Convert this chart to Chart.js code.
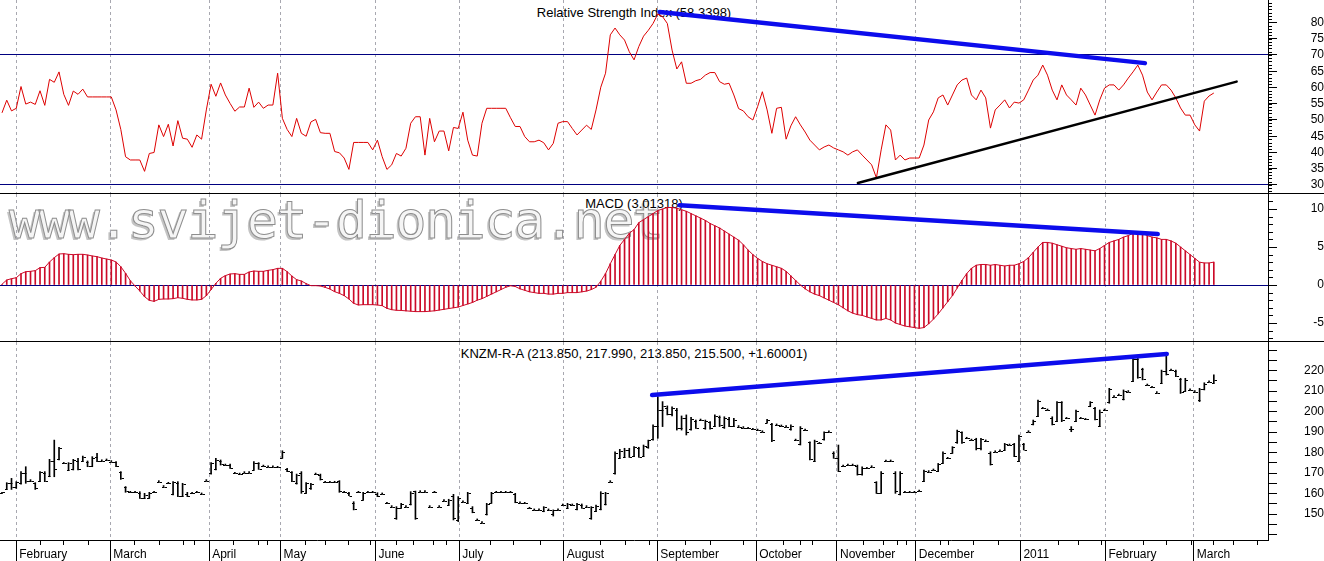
<!DOCTYPE html>
<html>
<head>
<meta charset="utf-8">
<title>KNZM-R-A</title>
<script src="https://cdn.jsdelivr.net/npm/chart.js@4.4.1/dist/chart.umd.min.js"></script>
<style>
  html, body { margin: 0; padding: 0; background: #fff; }
  #wrap { position: relative; width: 1324px; height: 561px; overflow: hidden; font-family: "Liberation Sans", Arial, sans-serif; }
  canvas { position: absolute; left: 0; z-index: 2; }
  .sep { position: absolute; left: 0; width: 1324px; height: 1px; background: #000; z-index: 3; }
  .ttl { position: absolute; left: 0; width: 1268px; text-align: center; font-size: 13px; line-height: 15px; color: #000; z-index: 1; white-space: nowrap; }
  #wm { position: absolute; left: 9px; top: 190px; line-height: 60px; font-family: "DejaVu Sans Mono", monospace; font-size: 52px; letter-spacing: -1.6px;
        color: #f5f5f5; -webkit-text-stroke: 1px #8e8e8e; text-shadow: -2px 2px 0 #c4c4c4; z-index: 1; white-space: nowrap; }
</style>
</head>
<body>
<div id="wrap">
  <div id="wm">www.svijet-dionica.net</div>
  <div class="ttl" style="top:5px">Relative Strength Index (58.3398)</div>
  <div class="ttl" style="top:196px">MACD (3.01318)</div>
  <div class="ttl" style="top:346px">KNZM-R-A (213.850, 217.990, 213.850, 215.500, +1.60001)</div>
  <canvas id="rsiChart" width="1324" height="193" style="top:0"></canvas>
  <div class="sep" style="top:193px"></div>
  <canvas id="macdChart" width="1324" height="147" style="top:194px"></canvas>
  <div class="sep" style="top:341px"></div>
  <canvas id="priceChart" width="1324" height="219" style="top:342px"></canvas>
</div>
<script>
// ---- data (one entry per trading session) ----
var rsi = [
  52.2,56.1,52.8,53.6,60.3,54.9,55.5,54.8,59.0,54.5, 62.5,61.6,64.8,57.9,54.5,58.9,57.9,59.5,57.1,57.1,
  57.1,57.1,57.1,57.1,53.1,47.1,38.7,37.7,37.7,37.7, 34.2,39.7,40.0,48.5,44.9,48.7,42.0,49.8,44.4,44.1,
  41.6,45.4,44.1,53.1,61.0,57.3,61.4,57.7,55.1,52.7, 54.0,54.0,59.8,53.9,55.5,53.6,54.6,54.6,64.4,50.5,
  47.1,44.9,50.5,45.9,45.0,49.4,50.2,46.1,45.9,45.9, 40.3,39.9,38.3,34.8,43.1,43.1,43.1,43.1,40.8,43.8,
  38.7,34.8,36.2,39.7,38.9,41.3,49.0,51.0,51.0,39.2, 50.5,43.3,46.6,46.6,40.5,47.7,47.4,52.4,43.8,39.2,
  38.9,49.0,53.6,53.6,53.6,53.6,53.6,50.7,48.0,48.0, 44.9,43.3,43.3,43.8,43.0,40.8,42.8,49.0,49.5,49.5,
  47.4,45.4,46.9,48.4,47.1,53.1,60.1,64.4,76.2,78.3, 76.2,74.6,71.0,68.5,72.6,75.8,77.6,79.7,82.6,81.8,
  79.7,71.5,65.7,67.9,61.3,61.3,62.1,62.5,63.8,64.6, 64.6,61.8,61.0,61.3,57.7,53.5,52.8,51.0,50.0,54.1,
  58.7,53.1,45.9,53.6,53.9,44.1,48.2,51.0,48.5,46.3, 43.8,42.3,40.8,41.7,42.3,41.4,40.8,40.2,39.2,40.2,
  40.8,39.2,37.7,36.2,32.2,40.8,48.5,46.9,37.7,39.2, 37.7,38.3,38.3,38.3,42.3,50.0,52.5,56.8,57.7,54.6,
  57.7,60.8,62.3,62.9,57.7,56.2,59.2,56.8,47.5,53.1, 54.6,56.2,53.7,55.5,55.2,56.2,59.2,62.3,63.8,66.9,
  63.8,59.2,56.2,60.8,57.7,56.2,54.6,59.8,57.7,54.6, 51.5,56.2,59.8,60.8,60.8,59.2,60.8,62.9,64.8,66.9,
  63.8,58.6,56.2,58.6,60.8,60.8,59.2,56.8,53.7,51.5, 51.5,48.5,46.6,55.8,57.4,58.3
];

var macd = [
  0.10,0.66,0.83,0.96,1.49,1.75,1.80,1.89,2.28,2.32, 3.03,3.60,4.08,4.12,4.04,3.99,4.04,4.04,3.95,3.82,
  3.73,3.55,3.42,3.29,3.03,2.41,1.54,0.57,-0.13,-0.79, -1.54,-2.02,-2.15,-1.89,-1.84,-1.84,-1.80,-1.67,-1.75,-1.89,
  -1.97,-1.97,-1.89,-1.40,-0.61,0.22,0.88,1.23,1.45,1.49, 1.40,1.40,1.71,1.84,1.80,1.80,1.93,2.02,2.19,2.19,
  1.75,1.18,0.70,0.53,0.18,-0.09,-0.09,-0.13,-0.31,-0.53, -0.88,-1.10,-1.40,-1.84,-2.41,-2.63,-2.59,-2.59,-2.59,-2.63,
  -2.72,-3.07,-3.25,-3.33,-3.35,-3.40,-3.45,-3.50,-3.50,-3.50, -3.45,-3.40,-3.30,-3.20,-3.10,-3.00,-2.90,-2.70,-2.50,-2.30,
  -2.00,-1.80,-1.50,-1.20,-0.90,-0.60,-0.30,-0.10,-0.20,-0.50, -0.70,-0.90,-1.00,-1.10,-1.10,-1.20,-1.20,-1.10,-1.10,-1.00,
  -1.00,-1.00,-0.90,-0.80,-0.60,-0.30,0.50,1.50,2.80,4.00, 5.20,6.00,6.80,7.30,8.20,8.60,9.00,9.40,9.80,10.00,
  10.20,10.20,10.10,9.90,9.70,9.40,9.10,8.80,8.50,8.10, 7.80,7.50,7.10,6.70,6.30,5.90,5.30,4.60,4.00,3.50,
  3.10,2.80,2.60,2.40,2.20,1.80,1.20,0.60,0.00,-0.50, -0.90,-1.20,-1.40,-1.70,-2.00,-2.30,-2.60,-3.00,-3.40,-3.70,
  -3.90,-4.00,-4.20,-4.40,-4.60,-4.60,-4.40,-4.60,-5.00,-5.20, -5.40,-5.50,-5.60,-5.70,-5.60,-5.10,-4.50,-3.80,-3.00,-2.20,
  -1.40,-0.40,0.60,1.50,2.20,2.60,2.70,2.70,2.60,2.70, 2.60,2.50,2.60,2.60,2.80,3.10,3.60,4.30,5.00,5.60,
  5.60,5.50,5.30,5.10,4.90,4.80,4.70,4.80,4.70,4.60, 4.50,4.80,5.20,5.60,5.80,6.00,6.30,6.50,6.80,7.00,
  6.80,6.50,6.30,6.20,6.00,6.00,5.80,5.50,5.00,4.50, 4.00,3.50,3.00,2.90,2.90,3.01
];

var hi = [
  160.6,165.3,167.4,165.8,170.7,173.1,166.3,165.3,170.7,170.7, 176.7,186.1,182.6,174.7,175.1,176.7,177.2,178.3,175.9,178.0,
  179.6,176.0,176.4,175.6,175.6,170.7,163.4,160.6,160.6,160.9, 160.1,160.6,160.6,165.8,163.4,165.0,165.8,165.8,165.0,160.6,
  160.1,160.6,159.8,166.3,175.1,177.2,176.4,173.9,174.4,169.9, 169.5,170.2,170.2,175.6,175.1,173.4,173.1,173.1,172.8,180.9,
  172.3,170.7,169.5,170.7,165.3,165.0,169.5,169.5,165.5,165.5, 165.5,166.3,160.6,160.6,156.0,160.6,160.6,160.6,160.6,160.4,
  159.8,155.2,153.6,153.6,155.2,153.6,160.9,161.2,160.9,160.9, 153.6,160.6,153.6,156.5,157.2,159.6,158.5,156.0,160.6,153.6,
  147.1,145.8,155.2,160.6,160.6,160.6,160.6,160.6,160.1,155.5, 155.2,152.8,152.0,152.0,153.6,152.0,152.0,152.0,154.4,155.2,
  154.4,155.2,154.9,153.6,153.6,154.4,160.9,160.6,165.8,180.4, 181.6,182.1,182.1,182.9,182.6,183.7,186.1,193.5,207.3,204.9,
  202.8,202.4,201.6,197.9,198.4,197.2,195.9,195.9,195.9,195.1, 198.4,197.9,197.5,197.2,196.7,192.7,192.2,191.8,191.4,191.0,
  190.2,196.2,194.3,193.5,193.0,192.7,193.5,186.1,192.7,191.0, 185.3,186.1,184.5,190.2,190.2,180.4,183.7,173.4,173.9,173.9,
  173.9,173.1,172.3,173.1,165.8,170.7,175.9,175.9,170.7,170.7, 160.6,160.6,160.6,161.2,171.5,170.7,171.5,174.7,180.4,177.2,
  182.9,191.0,190.2,187.0,186.1,187.0,187.0,185.7,180.4,180.4, 180.9,184.5,183.7,184.5,188.6,184.5,190.2,195.9,205.7,201.6,
  200.8,197.5,204.9,204.9,196.7,192.7,200.8,196.7,196.2,204.9, 202.1,200.8,200.8,211.4,207.3,208.1,210.6,209.8,226.0,226.0,
  221.2,213.0,211.9,209.3,220.3,227.2,220.3,220.3,216.3,216.3, 210.6,209.8,211.4,214.1,214.6,217.99
];
var lo = [
  160.1,162.0,162.0,162.5,164.6,165.0,166.3,162.0,165.8,165.8, 168.2,168.2,176.4,174.7,171.2,171.5,171.5,175.6,173.1,173.1,
  175.6,176.0,176.4,175.6,173.1,166.9,160.6,160.6,160.6,157.6, 157.6,157.6,160.6,165.8,163.4,165.0,159.3,158.5,158.5,158.5,
  160.1,160.6,159.8,166.3,169.5,171.5,173.9,173.9,172.3,169.9, 169.5,170.2,170.2,171.5,171.8,173.4,173.1,173.1,172.8,177.2,
  170.7,165.8,164.6,160.1,160.1,162.0,169.5,166.6,165.5,165.5, 165.5,160.6,160.6,158.9,152.0,160.6,156.8,160.6,160.6,158.5,
  159.8,155.2,153.6,147.4,152.8,153.6,154.4,147.4,160.9,160.9, 153.6,160.6,153.6,156.5,154.4,147.1,146.3,156.0,155.2,150.6,
  147.1,145.8,149.5,155.2,160.6,160.6,160.6,160.6,155.5,155.5, 155.2,152.8,152.0,152.0,151.1,152.0,149.0,152.0,154.4,152.8,
  154.4,152.0,152.8,153.6,147.4,151.1,152.0,154.4,165.8,169.5, 177.2,177.7,177.7,178.0,177.7,178.3,182.1,186.1,187.0,192.7,
  198.4,197.9,191.0,191.0,188.6,191.0,191.8,195.9,191.4,191.4, 192.7,192.7,191.8,192.7,192.7,192.7,192.2,191.8,191.4,191.0,
  190.2,194.6,185.3,193.5,193.0,192.7,191.0,186.1,183.7,191.0, 176.4,175.6,184.5,186.1,190.2,177.2,170.7,173.4,173.9,173.9,
  169.0,169.0,172.3,173.1,160.1,160.1,175.9,175.9,160.1,159.3, 160.6,160.6,160.6,161.2,165.8,170.7,171.5,170.7,174.7,177.2,
  179.6,184.5,184.5,187.0,186.1,181.3,181.3,185.7,173.9,180.4, 180.9,181.3,183.7,178.0,175.6,181.3,190.2,193.5,197.5,201.6,
  200.8,193.5,195.1,195.1,196.7,190.2,195.1,196.7,196.2,202.4, 195.9,192.7,200.8,204.1,207.3,208.1,205.7,209.8,214.6,216.3,
  215.5,213.0,211.9,209.3,213.8,217.9,220.3,217.1,208.9,209.8, 210.6,209.8,204.9,210.6,214.6,213.85
];
var op = [
  160.1,162.0,165.0,163.0,165.0,170.0,166.3,165.0,166.0,170.0, 168.5,176.0,177.0,174.7,171.5,172.0,176.0,176.0,175.5,173.5,
  178.0,176.0,176.4,175.6,175.5,170.5,163.0,160.6,160.6,160.5, 158.0,158.0,160.6,165.8,163.4,165.0,160.0,165.0,159.0,160.0,
  160.1,160.6,159.8,166.3,170.0,172.0,176.0,173.9,174.0,169.9, 169.5,170.2,170.2,171.5,175.0,173.4,173.1,173.1,172.8,177.5,
  172.0,170.5,165.0,170.0,160.5,162.5,169.5,169.0,165.5,165.5, 165.5,166.0,160.6,160.5,155.5,160.6,157.0,160.6,160.6,160.0,
  159.8,155.2,153.6,148.0,153.0,153.6,155.0,161.0,160.9,160.9, 153.6,160.6,153.6,156.5,154.5,159.0,147.0,156.0,155.5,153.0,
  147.1,145.8,150.0,155.5,160.6,160.6,160.6,160.6,160.0,155.5, 155.2,152.8,152.0,152.0,151.5,152.0,150.0,152.0,154.4,153.0,
  154.4,152.5,154.5,153.6,148.0,151.5,152.5,155.0,165.8,170.0, 177.5,178.0,181.5,178.5,182.0,178.5,182.5,186.5,193.0,201.0,
  202.0,199.0,201.0,192.0,197.0,191.5,195.5,195.9,192.0,195.0, 193.0,197.5,192.5,196.5,193.0,192.7,192.2,191.8,191.4,191.0,
  190.2,194.6,194.0,193.5,193.0,192.7,191.5,186.1,184.0,191.0, 185.0,176.0,184.5,186.5,190.2,180.0,177.5,173.4,173.9,173.9,
  173.5,169.5,172.3,173.1,165.5,160.5,175.9,175.9,170.0,160.0, 160.6,160.6,160.6,161.2,166.0,170.7,171.5,171.0,175.0,177.2,
  180.0,185.0,190.0,187.0,186.1,186.5,182.0,185.7,180.0,180.4, 180.9,181.5,183.7,184.0,176.0,184.0,190.2,194.0,198.0,201.6,
  200.8,197.0,195.5,204.5,196.7,191.5,195.5,196.7,196.2,203.0, 202.0,193.0,200.8,204.5,207.3,208.1,206.0,209.8,215.0,225.5,
  221.0,213.0,211.9,209.3,214.0,220.0,220.3,220.0,216.0,210.0, 210.6,209.8,205.5,211.0,214.6,213.85
];
var cl = [
  160.6,165.3,163.0,165.5,170.0,166.0,166.3,162.5,170.5,166.0, 176.0,172.0,182.0,174.7,175.0,176.5,172.0,178.0,173.5,177.5,
  176.0,176.0,176.4,175.6,173.5,167.5,161.0,160.6,160.6,158.0, 159.5,160.5,160.6,165.8,163.4,165.0,165.5,159.0,164.5,159.0,
  160.1,160.6,159.8,166.3,175.0,176.5,174.5,173.9,172.5,169.9, 169.5,170.2,170.2,175.0,172.0,173.4,173.1,173.1,172.8,180.5,
  171.0,166.0,169.0,161.0,165.0,164.5,169.5,167.0,165.5,165.5, 165.5,161.0,160.6,159.0,152.5,160.6,160.5,160.6,160.6,159.0,
  159.8,155.2,153.6,153.0,155.0,153.6,160.5,148.0,160.9,160.9, 153.6,160.6,153.6,156.5,157.0,148.0,158.0,156.0,160.5,151.0,
  147.1,145.8,155.0,160.5,160.6,160.6,160.6,160.6,156.0,155.5, 155.2,152.8,152.0,152.0,153.5,152.0,152.0,152.0,154.4,155.0,
  154.4,155.0,153.0,153.6,153.5,154.0,160.5,160.5,165.8,180.0, 181.0,181.5,178.0,182.5,178.0,183.0,186.0,193.0,201.0,203.0,
  199.0,202.0,192.0,197.0,190.0,196.5,192.0,195.9,195.5,192.0, 198.0,193.5,197.0,193.0,196.0,192.7,192.2,191.8,191.4,191.0,
  190.2,196.0,186.0,193.5,193.0,192.7,193.0,186.1,192.0,191.0, 177.0,185.5,184.5,190.0,190.2,177.5,171.0,173.4,173.9,173.9,
  169.5,172.5,172.3,173.1,160.5,170.0,175.9,175.9,161.0,170.0, 160.6,160.6,160.6,161.2,171.0,170.7,171.5,174.5,180.0,177.2,
  182.5,190.5,185.0,187.0,186.1,182.0,186.5,185.7,174.5,180.4, 180.9,184.0,183.7,178.5,188.0,181.5,190.2,195.5,205.0,201.6,
  200.8,194.0,204.5,196.0,196.7,191.5,200.5,196.7,196.2,204.5, 196.5,200.0,200.8,211.0,207.3,208.1,210.0,209.8,225.5,217.0,
  216.0,213.0,211.9,209.3,220.0,218.5,220.3,217.5,209.5,215.5, 210.6,209.8,211.0,213.5,214.6,215.5
];

// month boundaries (in session index) and their labels
var monthNames = ['February','March','April','May','June','July','August','September','October','November','December','2011','February','March'];
var monthStart = [3.0, 22.8, 43.6, 58.6, 78.6, 96.2, 118.2, 137.9, 158.7, 175.7, 192.3, 214.3, 232.2, 250.8];
var weekTicks = [8.0,12.9,18.0,27.8,33.0,38.0,40.5,48.7,53.8,55.8,63.7,68.0,72.9,77.4,83.0,86.5,90.7,93.4,
                 102.7,107.6,113.2,125.8,131.1,136.2,143.7,148.9,156.0,164.4,167.9,170.4,181.2,185.4,188.4,190.3,
                 197.4,199.1,204.4,209.6,222.2,226.4,231.3,240.1,245.0,250.3,254.8,259.1,264.0];

// tick labels on the right axes
var rsiLabels = [30, 35, 40, 45, 50, 55, 60, 65, 70, 75, 80];
var macdLabels = [-5, 0, 5, 10];
var priceLabels = [150, 160, 170, 180, 190, 200, 210, 220];

// hand drawn trend lines: [session index, value]
var rsiTrendHigh = [[138.4, 83.2], [240.5, 67.5]];
var rsiTrendLow = [[180.1, 30.6], [259.8, 61.8]];
var macdTrend = [[142.6, 10.5], [243.2, 6.7]];
var priceTrend = [[136.8, 208.1], [245.1, 228.2]];

// ---- charts ----
Chart.defaults.font.family = '"Liberation Sans", Arial, sans-serif';
Chart.defaults.font.size = 12;
Chart.defaults.color = '#000';
Chart.defaults.animation = false;

var BLUE = '#0c0cec';
var RED = '#dd0000';
var xMin = -0.42, xMax = 266.4;

function pts(arr) { return arr.map(function (v, i) { return { x: i, y: v }; }); }
function pairs(arr) { return arr.map(function (p) { return { x: p[0], y: p[1] }; }); }
function range(a, b, step) { var out = []; for (var v = a; v <= b; v += step) out.push(v); return out; }

function trend(data, color, width) {
    return { type: 'line', data: pairs(data), borderColor: color, borderWidth: width, pointRadius: 0, borderCapStyle: 'round' };
}

function xAxis(showLabels) {
    return {
        type: 'linear', min: xMin, max: xMax, offset: false,
        afterBuildTicks: function (s) { s.ticks = monthStart.map(function (v) { return { value: v }; }); },
        afterFit: function (s) { s.height = showLabels ? 21 : 0; s.paddingLeft = 0; s.paddingRight = 0; },
        ticks: { display: showLabels, autoSkip: false, maxRotation: 0, align: 'start', labelOffset: 3, padding: -14,
                 callback: function (v, i) { return monthNames[i]; } },
        grid: { offset: false, color: '#a8a8b0', drawTicks: showLabels, tickLength: 21, tickColor: '#000', tickWidth: 1 },
        border: { display: showLabels, color: '#000', dash: [3, 3] }
    };
}

function yAxis(min, max, ticks, labels, special, pad) {
    return {
        position: 'right', min: min, max: max,
        afterBuildTicks: function (s) { s.ticks = ticks.map(function (v) { return { value: v }; }); },
        afterFit: function (s) { s.width = 56; s.paddingTop = 0; s.paddingBottom = 0; },
        ticks: { autoSkip: false, crossAlign: 'far', padding: pad,
                 callback: function (v) { return labels.indexOf(v) >= 0 ? String(v) : ''; } },
        grid: { color: function (c) { return (c.tick && special.indexOf(c.tick.value) >= 0) ? '#000080' : 'rgba(0,0,0,0)'; },
                tickLength: 9, tickColor: '#000' },
        border: { color: '#000' }
    };
}

// short ticks between the labelled ones
function minorTicks(values, len) {
    return {
        id: 'minorTicks',
        afterDraw: function (chart) {
            var y = chart.scales.y, ctx = chart.ctx, x0 = chart.chartArea.right;
            ctx.save();
            ctx.strokeStyle = '#000';
            ctx.lineWidth = 1;
            ctx.beginPath();
            values.forEach(function (v) {
                var py = Math.round(y.getPixelForValue(v)) + 0.5;
                ctx.moveTo(x0, py);
                ctx.lineTo(x0 + len, py);
            });
            ctx.stroke();
            ctx.restore();
        }
    };
}

var baseOptions = function (scales) {
    return {
        responsive: false, maintainAspectRatio: false, animation: false,
        layout: { padding: 0 },
        plugins: { legend: { display: false }, tooltip: { enabled: false } },
        scales: scales
    };
};

// RSI
new Chart(document.getElementById('rsiChart'), {
    type: 'line',
    data: {
        datasets: [
            trend(rsiTrendHigh, BLUE, 4.5),
            trend(rsiTrendLow, '#000', 2.5),
            { data: pts(rsi), borderColor: RED, borderWidth: 1, pointRadius: 0, tension: 0 }
        ]
    },
    options: baseOptions({
        x: xAxis(false),
        y: yAxis(27.538, 86.923, rsiLabels, rsiLabels, [30, 70], 27)
    }),
    plugins: [minorTicks(range(28, 86, 1), 4)]
});

// MACD
new Chart(document.getElementById('macdChart'), {
    type: 'bar',
    data: {
        datasets: [
            trend(macdTrend, BLUE, 4.5),
            { type: 'line', data: pts(macd), borderColor: '#cc0a28', borderWidth: 1, pointRadius: 0 },
            { type: 'bar', data: pts(macd), backgroundColor: '#cc0a28', barThickness: 1 }
        ]
    },
    options: baseOptions({
        x: xAxis(false),
        y: yAxis(-7.368, 11.974, macdLabels, macdLabels, [0], 27)
    }),
    plugins: [minorTicks(range(-7, 11, 1), 5)]
});

// price bars: high-low as floating bars, open/close ticks drawn on the same scales
var ohlcTicks = {
    id: 'ohlcTicks',
    afterDatasetsDraw: function (chart) {
        var xs = chart.scales.x, ys = chart.scales.y, ctx = chart.ctx;
        ctx.save();
        ctx.strokeStyle = '#000';
        ctx.lineWidth = 1;
        ctx.beginPath();
        for (var i = 0; i < hi.length; i++) {
            var px = Math.round(xs.getPixelForValue(i)) + 0.5;
            var po = Math.round(ys.getPixelForValue(op[i])) + 0.5;
            var pc = Math.round(ys.getPixelForValue(cl[i])) + 0.5;
            ctx.moveTo(px - 2.5, po); ctx.lineTo(px, po);
            ctx.moveTo(px, pc); ctx.lineTo(px + 2.5, pc);
        }
        // weekly ticks under the date axis
        var yb = chart.chartArea.bottom;
        weekTicks.forEach(function (v) {
            var wx = Math.round(xs.getPixelForValue(v)) + 0.5;
            ctx.moveTo(wx, yb); ctx.lineTo(wx, yb + 5);
        });
        ctx.stroke();
        ctx.restore();
    }
};

new Chart(document.getElementById('priceChart'), {
    type: 'bar',
    data: {
        datasets: [
            trend(priceTrend, BLUE, 4.5),
            { type: 'bar', data: hi.map(function (h, i) { return { x: i, y: [lo[i], h] }; }),
              backgroundColor: '#000', barThickness: 1, minBarLength: 1 }
        ]
    },
    options: baseOptions({
        x: xAxis(true),
        y: yAxis(137.30, 234.02, range(140, 230, 5), priceLabels, [], 21)
    }),
    plugins: [ohlcTicks]
});
</script>
</body>
</html>
